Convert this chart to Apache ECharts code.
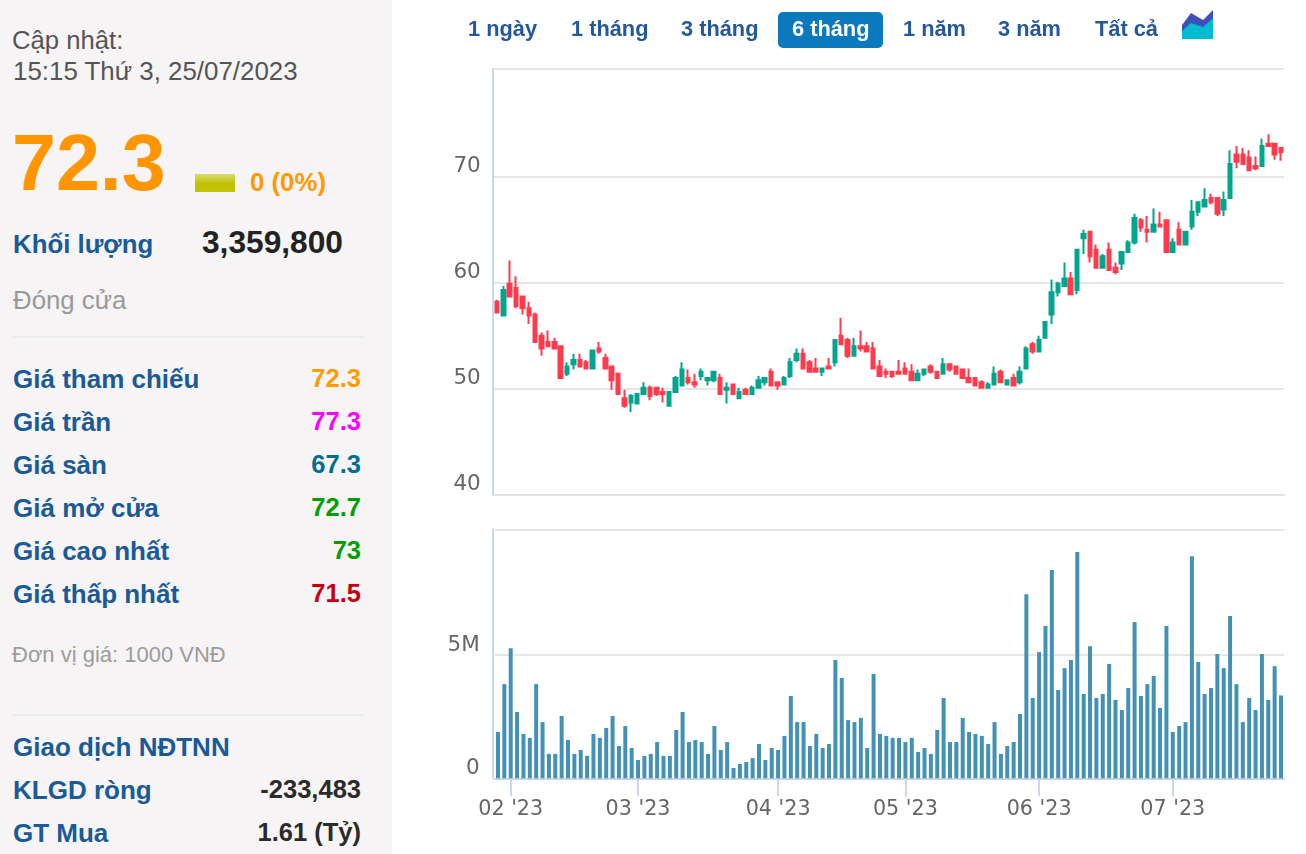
<!DOCTYPE html>
<html lang="vi">
<head>
<meta charset="utf-8">
<title>Biểu đồ giá</title>
<script src="https://cdn.jsdelivr.net/npm/echarts@6/dist/echarts.min.js"></script>
<style>
html,body{margin:0;padding:0;width:1306px;height:854px;overflow:hidden;background:#fff;font-family:"Liberation Sans",Arial,sans-serif}
#chart{position:absolute;left:0;top:0;width:1306px;height:854px}
#side{position:absolute;left:0;top:0;width:392px;height:854px;background:#f6f4f5}
.t{position:absolute;white-space:nowrap;line-height:1}
.b{font-weight:bold}
.blue{color:#1a5a96}
.r{right:31px;text-align:right}
.sep{position:absolute;left:13px;width:350px;height:2px;background:#ececec}
#bar .t{font-size:21.8px;font-weight:bold;color:#25589b;top:18px}
#active{position:absolute;left:778px;top:12px;width:105px;height:36px;border-radius:5px;background:#0b79bd}
</style>
</head>
<body>
<div id="chart"></div>
<div id="side">
  <div class="t" style="left:12px;top:28px;font-size:25.7px;color:#555">Cập nhật:</div>
  <div class="t" style="left:13px;top:59px;font-size:25.9px;color:#555">15:15 Thứ 3, 25/07/2023</div>
  <div class="t b" style="left:12px;top:123px;font-size:79px;color:#ff9500">72.3</div>
  <div style="position:absolute;left:195px;top:174px;width:40px;height:18px;background:linear-gradient(#d8dc70,#bfc000 55%,#c4c400)"></div>
  <div class="t b" style="left:250px;top:170px;font-size:25.8px;color:#ff9a00">0 (0%)</div>
  <div class="t b blue" style="left:13px;top:232px;font-size:25.8px">Khối lượng</div>
  <div class="t b" style="left:202px;top:227px;font-size:31.7px;color:#222">3,359,800</div>
  <div class="t" style="left:13px;top:288px;font-size:25.8px;color:#999">Đóng cửa</div>
  <div class="sep" style="top:336px"></div>
  <div id="rows"></div>
  <div class="t" style="left:12px;top:644px;font-size:22px;color:#9c9c9c">Đơn vị giá: 1000 VNĐ</div>
  <div class="sep" style="top:714px"></div>
  <div id="rows2"></div>
</div>
<div id="bar">
  <div id="active"></div>
  <div class="t" style="left:468px">1 ngày</div>
  <div class="t" style="left:571px">1 tháng</div>
  <div class="t" style="left:681px">3 tháng</div>
  <div class="t" style="left:792px;color:#fff">6 tháng</div>
  <div class="t" style="left:903px">1 năm</div>
  <div class="t" style="left:998px">3 năm</div>
  <div class="t" style="left:1095px">Tất cả</div>
  <svg style="position:absolute;left:1182px;top:9px" width="31" height="31" viewBox="0 0 31 31">
    <polygon points="0,16 9,4 21,11 31,1 31,30 0,30" fill="#3f4fb8"/>
    <polygon points="0,22 9,14 21,18 31,9 31,30 0,30" fill="#00bcd0"/>
  </svg>
</div>
<script>
const tradingDays = {
  '2023-01': [30,31],
  '2023-02': [1,2,3,6,7,8,9,10,13,14,15,16,17,20,21,22,23,24,27,28],
  '2023-03': [1,2,3,6,7,8,9,10,13,14,15,16,17,20,21,22,23,24,27,28,29,30,31],
  '2023-04': [3,4,5,6,7,10,11,12,13,14,17,18,19,20,21,24,25,26,27,28],
  '2023-05': [4,5,8,9,10,11,12,15,16,17,18,19,22,23,24,25,26,29,30,31],
  '2023-06': [1,2,5,6,7,8,9,12,13,14,15,16,19,20,21,22,23,26,27,28,29,30],
  '2023-07': [3,4,5,6,7,10,11,12,13,14,17,18,19,20,21,24,25]
};
const categories = Object.keys(tradingDays).flatMap(m => tradingDays[m].map(d => m + '-' + String(d).padStart(2,'0')));
const monthTicks = {'2023-02-01':"02 '23",'2023-03-01':"03 '23",'2023-03-31':"04 '23",'2023-04-28':"05 '23",'2023-06-01':"06 '23",'2023-06-30':"07 '23"};

const openVals = [58.2,56.9,59.9,59.5,58.7,57.6,57.0,55.0,54.4,54.4,54.0,51.4,52.3,52.7,52.5,51.9,53.8,52.9,52.1,51.4,49.1,48.7,48.6,49.5,50.1,50.1,49.7,48.4,49.7,50.3,51.0,50.6,51.2,50.8,50.8,51.0,49.9,50.4,49.1,49.9,49.5,50.1,
50.6,51.6,50.6,50.4,51.2,52.7,53.3,52.5,51.9,51.6,52.1,52.5,55.0,54.6,53.1,54.0,54.0,53.8,52.1,51.6,51.6,51.6,51.9,51.6,50.8,51.4,52.1,51.6,51.4,52.3,52.1,51.8,51.0,51.0,50.6,50.1,50.4,51.6,50.4,51.0,50.6,51.9,
54.2,53.5,54.8,57.0,59.1,59.7,60.4,59.3,64.2,64.8,63.1,61.4,63.1,61.4,61.8,62.9,63.8,65.9,65.0,64.8,65.5,65.9,62.9,65.0,63.6,65.3,66.7,67.2,68.0,68.0,66.9,68.0,72.1,72.1,71.8,71.0,71.0,73.1,73.1,72.7];
const closeVals = [57.2,59.3,58.7,57.8,57.6,56.9,54.4,53.8,54.0,53.8,51.0,52.1,52.7,52.1,51.9,53.6,53.5,51.9,50.8,49.5,48.4,49.3,49.5,50.1,49.3,49.5,49.5,49.7,51.0,51.8,50.6,50.4,51.6,51.0,51.6,49.5,50.1,49.5,49.7,49.5,50.1,50.8,
51.0,50.3,50.3,51.0,52.5,53.3,51.9,51.6,51.6,51.9,51.9,54.6,54.2,53.1,54.0,53.8,53.5,51.9,51.2,51.4,51.2,51.4,51.4,50.8,51.4,51.8,51.6,51.0,52.3,51.8,51.4,51.0,50.6,50.3,50.1,50.4,51.4,50.6,50.8,50.3,51.6,53.8,
53.5,54.6,56.3,59.1,59.9,60.4,58.9,63.1,64.6,62.5,61.4,62.5,61.2,61.0,62.9,63.8,66.1,65.2,64.8,65.5,65.3,62.9,63.8,63.6,64.8,66.7,67.6,67.8,67.6,66.5,67.8,71.2,71.4,71.2,70.6,70.8,72.9,72.9,72.1,72.3];
const lowVals = [57.2,56.9,58.7,57.6,57.0,56.1,54.4,53.1,54.0,53.8,51.0,51.2,51.8,52.1,51.8,51.9,53.3,51.9,49.9,49.5,48.2,47.8,48.6,49.5,48.9,49.3,48.7,48.4,49.7,50.3,50.4,50.1,50.8,50.3,50.6,49.5,48.6,49.5,49.1,49.5,49.5,50.1,
50.3,50.3,49.9,50.4,51.0,52.5,51.9,51.6,51.6,51.2,51.9,52.1,54.2,52.9,53.1,53.5,53.5,51.9,51.2,51.0,51.0,51.4,51.4,50.8,50.8,51.2,51.4,51.0,51.4,51.6,51.4,51.0,50.6,50.3,50.1,50.1,50.4,50.6,50.3,50.3,50.4,51.8,
53.3,53.5,54.8,56.1,58.7,59.7,58.9,58.9,62.7,61.9,61.4,61.4,61.2,60.8,61.2,62.9,63.6,64.8,63.8,64.8,65.3,62.9,62.9,63.6,63.6,65.0,66.3,67.2,67.4,66.3,66.3,68.0,70.8,71.2,70.6,70.6,71.0,72.9,71.6,71.5];
const highVals = [58.4,59.7,62.1,60.6,58.7,58.2,57.2,55.3,55.5,54.8,54.0,52.5,53.3,53.3,52.7,53.6,54.4,53.3,52.1,51.4,49.9,49.5,49.5,50.6,50.3,50.1,50.1,49.7,51.2,52.5,51.8,51.4,51.9,51.0,51.6,51.4,50.6,50.4,50.1,50.1,50.3,51.2,
51.0,51.9,50.6,51.2,52.9,53.8,53.8,52.7,52.9,51.9,52.9,54.6,56.7,54.8,54.8,55.5,54.4,54.4,52.7,51.9,51.6,52.7,52.5,52.3,51.8,51.9,52.3,51.6,52.9,52.3,52.1,51.8,51.9,51.0,50.8,50.6,52.1,51.8,50.8,51.4,52.1,54.0,
54.4,55.0,56.3,60.3,60.1,61.9,61.0,63.1,65.0,64.8,63.6,62.7,63.8,61.9,62.9,64.0,66.5,66.1,66.3,67.0,66.7,65.9,64.2,65.7,64.8,67.8,67.6,68.9,68.4,68.0,68.6,72.5,72.9,72.7,72.5,71.9,73.6,74.0,73.1,72.7];
const volumeM = [1.88,3.82,5.28,2.69,1.80,1.64,3.82,2.28,0.99,0.99,2.53,1.55,0.99,1.15,0.91,1.80,1.64,2.04,2.53,1.31,2.12,1.23,0.74,0.91,0.99,1.47,0.91,0.91,1.96,2.69,1.47,1.55,1.47,0.99,2.12,1.15,1.47,0.42,0.58,0.66,0.82,1.39,
0.74,1.23,1.15,1.72,3.34,2.28,2.28,1.31,1.80,1.23,1.39,4.80,4.07,2.36,2.28,2.45,1.23,4.23,1.80,1.72,1.64,1.64,1.47,1.64,1.07,1.23,0.99,1.96,3.26,1.47,1.47,2.45,1.88,1.80,1.72,1.39,2.28,0.99,1.31,1.47,2.61,7.47,
3.26,5.12,6.18,8.45,3.58,4.47,4.80,9.18,3.42,5.36,3.26,3.42,4.64,3.18,2.77,3.66,6.34,3.34,3.82,4.15,2.85,6.18,1.88,2.12,2.28,9.01,4.72,3.42,3.66,5.04,4.47,6.58,3.82,2.28,3.26,2.77,5.04,3.18,4.55,3.36];

const priceTicks = [40,50,60,70];
const volumeTicks = [0,5];

const priceRows = [
  ['Giá tham chiếu','72.3','#ff9a00'],['Giá trần','77.3','#ff00ff'],['Giá sàn','67.3','#006e92'],
  ['Giá mở cửa','72.7','#00a000'],['Giá cao nhất','73','#00a000'],['Giá thấp nhất','71.5','#c40010']
];
const foreignRows = [['Giao dịch NĐTNN',''],['KLGD ròng','-233,483'],['GT Mua','1.61 (Tỷ)']];
document.getElementById('rows').innerHTML = priceRows.map((r,i)=>{
  const top = 366 + i*43;
  return `<div class="t b blue" style="left:13px;top:${top}px;font-size:26px">${r[0]}</div><div class="t b r" style="top:${top}px;font-size:25.5px;color:${r[2]}">${r[1]}</div>`;
}).join('');
document.getElementById('rows2').innerHTML = foreignRows.map((r,i)=>{
  const top = 734 + i*43;
  return `<div class="t b blue" style="left:13px;top:${top}px;font-size:26px">${r[0]}</div><div class="t b r" style="top:${top}px;font-size:25.5px;color:#2a2a2a">${r[1]}</div>`;
}).join('');

const candles = categories.map((_,i)=>[openVals[i],closeVals[i],lowVals[i],highVals[i]]);
const gridW = 790.4;
const axisFont = 'DejaVu Sans';
const chart = echarts.init(document.getElementById('chart'),null,{renderer:'canvas'});
chart.setOption({
  animation:false,
  grid:[
    {left:493.8,width:gridW,top:69,height:425.7},
    {left:494.8,width:gridW-1,top:529.3,height:249}
  ],
  xAxis:[
    {type:'category',gridIndex:0,data:categories,boundaryGap:true,
     axisLine:{show:true,lineStyle:{color:'#e1e4ec',width:2}},axisTick:{show:false},axisLabel:{show:false},splitLine:{show:false}},
    {type:'category',gridIndex:1,data:categories,boundaryGap:true,
     axisLine:{show:true,lineStyle:{color:'#ccd6eb',width:2}},
     axisTick:{show:true,alignWithLabel:true,length:18,lineStyle:{color:'#ccd6eb',width:2},interval:(i,v)=>v in monthTicks},
     axisLabel:{show:true,interval:(i,v)=>v in monthTicks,formatter:v=>monthTicks[v]||'',fontFamily:axisFont,fontSize:20.7,color:'#666',margin:21},
     splitLine:{show:false}}
  ],
  yAxis:[
    {type:'value',gridIndex:0,min:40,max:80.16,offset:1,
     axisLine:{show:true,lineStyle:{color:'#ccd6eb',width:2}},
     axisTick:{show:false,customValues:priceTicks.concat([80.16])},
     axisLabel:{customValues:priceTicks,fontFamily:axisFont,fontSize:21.5,color:'#666',margin:12,verticalAlign:'bottom',lineHeight:20},
     splitLine:{show:true,lineStyle:{color:'#e6e6e6',width:2}}},
    {type:'value',gridIndex:1,min:0,max:10.1,offset:2,
     axisLine:{show:true,lineStyle:{color:'#ccd6eb',width:2}},
     axisTick:{show:false,customValues:volumeTicks.concat([10.1])},
     axisLabel:{customValues:volumeTicks,formatter:v=>v===0?'0':v+'M',fontFamily:axisFont,fontSize:21.5,color:'#666',margin:13,verticalAlign:'bottom',lineHeight:20},
     splitLine:{show:true,lineStyle:{color:'#e6e6e6',width:2}}}
  ],
  series:[
    {type:'candlestick',xAxisIndex:0,yAxisIndex:0,data:candles,barWidth:4,
     itemStyle:{color:'#00a58e',color0:'#ff3b4e',borderColor:'#00a58e',borderColor0:'#ff3b4e',borderWidth:2}},
    {type:'bar',xAxisIndex:1,yAxisIndex:1,data:volumeM,barWidth:4,itemStyle:{color:'#4391b5'}}
  ]
});
</script>
</body>
</html>
